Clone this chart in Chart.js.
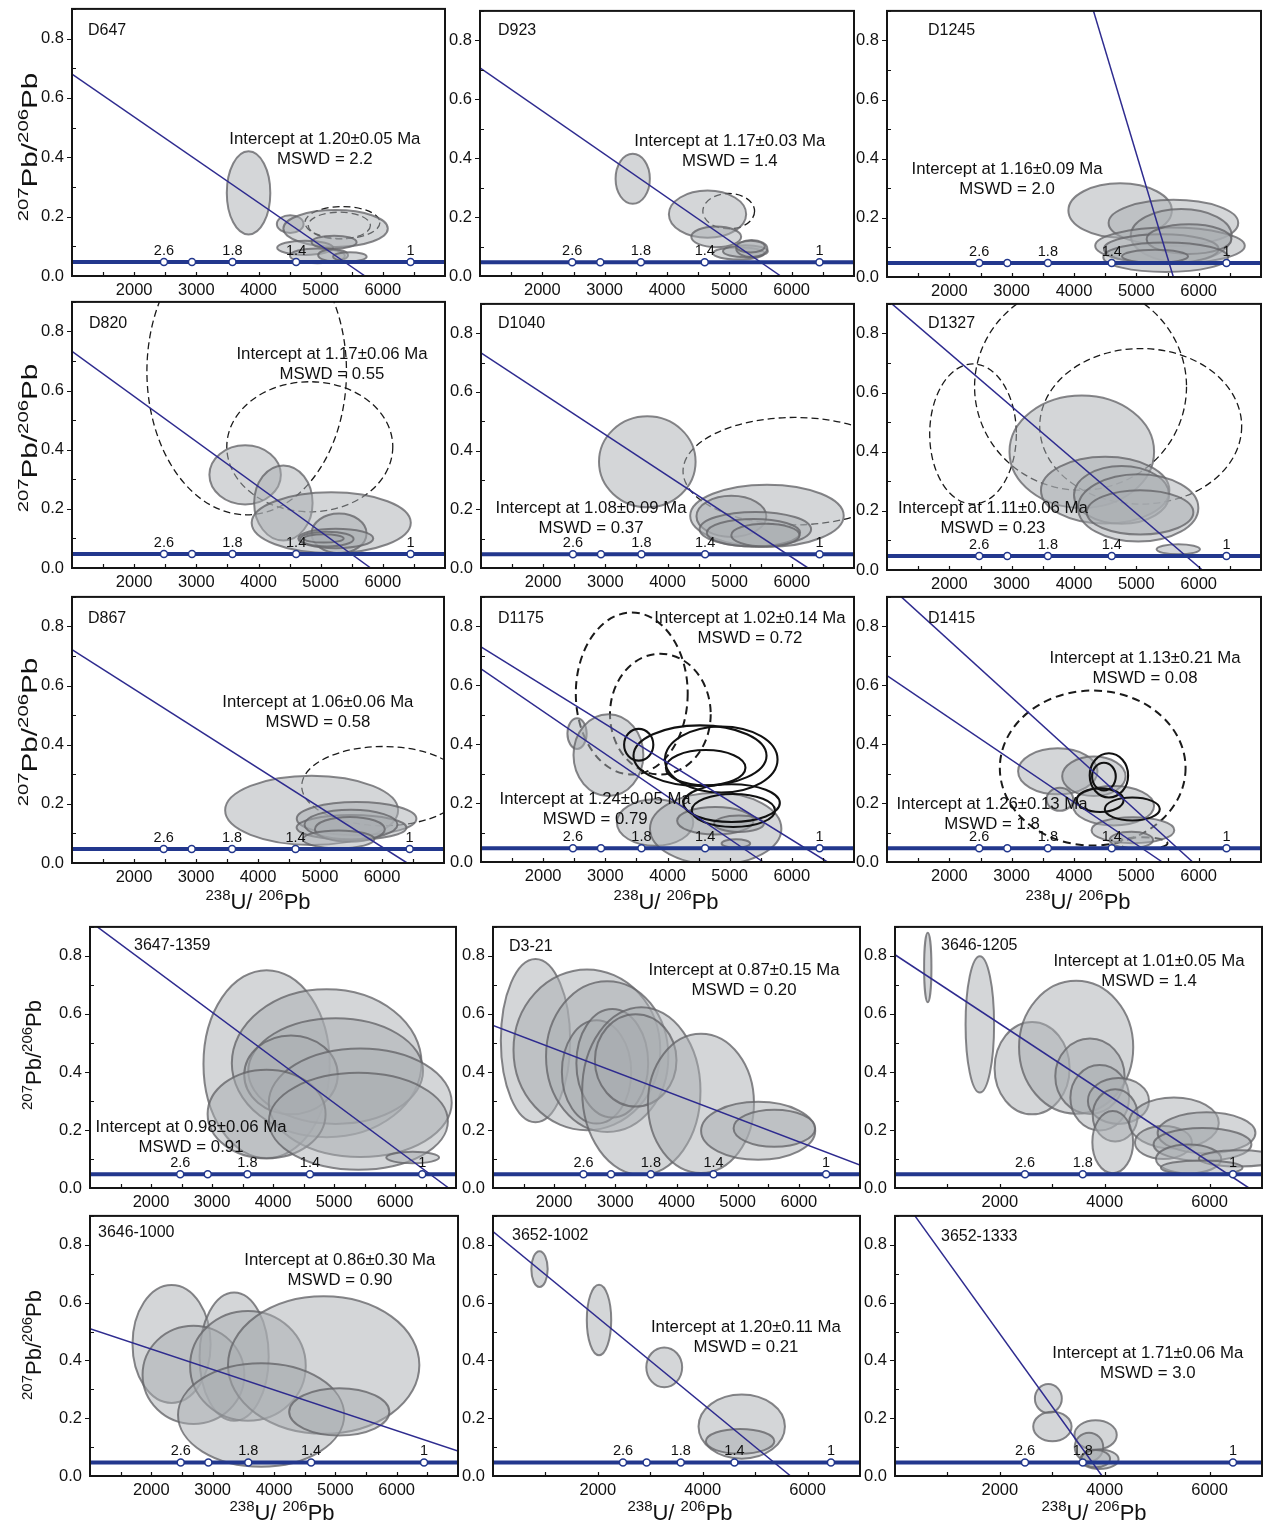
<!DOCTYPE html>
<html>
<head>
<meta charset="utf-8">
<title>Tera-Wasserburg diagrams</title>
<script src="https://cdn.jsdelivr.net/npm/chart.js@4.4.1/dist/chart.umd.min.js"></script>
<style>
  html, body { margin: 0; padding: 0; background: #fff; }
  body { position: relative; width: 1278px; height: 1527px; overflow: hidden;
         font-family: "Liberation Sans", Arial, sans-serif; color: #111; }
  canvas { position: absolute; }
  .ttl { position: absolute; white-space: nowrap; line-height: 1; }
  .ttl .b { font-size: 22px; }
  .ttl .s { font-size: 15px; position: relative; top: -9px; }
</style>
</head>
<body>
<script>
// ---- concordia (age marks in Ma, their 238U/206Pb, and the common 207Pb/206Pb level)
const concordiaAges = ['2.6', '2.2', '1.8', '1.4', '1'];
const concordiaU = [2479, 2930, 3581, 4605, 6446];
const concordiaPb = 0.047;
const labelledAges = ['2.6', '1.8', '1.4', '1'];

// ---- tick labels
const yTickLabels = [0, 0.2, 0.4, 0.6, 0.8];
const xTickLabelsFine = [2000, 3000, 4000, 5000, 6000];
const xTickLabelsCoarse = [2000, 4000, 6000];

// ---- sample error ellipses: [238U/206Pb, 207Pb/206Pb, half-width, half-height]
// discordia lines: [x1, y1, x2, y2]
const D647_grey = [[3840,0.28,350,0.14],[4510,0.175,215,0.03],[5240,0.16,840,0.062],[4750,0.095,450,0.024],[5216,0.114,362,0.022],[4948,0.068,442,0.025],[5200,0.07,240,0.02],[5470,0.065,270,0.015]];
const D647_dashed = [[5350,0.18,603,0.054],[5300,0.17,500,0.045]];
const D647_lines = [[1000,0.68,5714,0]];
const D647_notes = [['Intercept at 1.20±0.05 Ma','MSWD = 2.2']];

const D923_grey = [[3450,0.33,275,0.085],[4650,0.21,620,0.08],[4790,0.133,400,0.035],[5150,0.077,414,0.021],[5258,0.084,360,0.02],[5360,0.093,250,0.029],[5340,0.1,230,0.02]];
const D923_dashed = [[4990,0.22,415,0.06]];
const D923_lines = [[1000,0.707,5824,0]];
const D923_notes = [['Intercept at 1.17±0.03 Ma','MSWD = 1.4']];

const D1245_grey = [[4740,0.225,830,0.092],[5595,0.183,1040,0.078],[5720,0.14,810,0.09],[5540,0.106,1200,0.061],[5400,0.095,920,0.05],[5845,0.128,680,0.05],[5470,0.067,1000,0.05],[5300,0.07,530,0.022]];
const D1245_lines = [[4312,0.9,5594,0]];
const D1245_notes = [['Intercept at 1.16±0.09 Ma','MSWD = 2.0']];

const D820_grey = [[3785,0.315,575,0.1],[4400,0.22,470,0.127],[5170,0.153,1280,0.103],[5296,0.117,442,0.067],[5243,0.1,603,0.033],[5100,0.098,430,0.025],[5050,0.1,320,0.014]];
const D820_dashed = [[3810,0.665,1605,0.485],[4825,0.41,1335,0.22]];
const D820_lines = [[1000,0.733,5805,0]];
const D820_notes = [['Intercept at 1.17±0.06 Ma','MSWD = 0.55']];

const D1040_grey = [[3675,0.362,777,0.155],[5600,0.178,1235,0.106],[5028,0.176,562,0.07],[5413,0.132,897,0.059],[5383,0.12,750,0.047],[5575,0.112,549,0.039]];
const D1040_dashed = [[6045,0.33,1795,0.183]];
const D1040_lines = [[1000,0.733,6260,0]];
const D1040_notes = [['Intercept at 1.08±0.09 Ma','MSWD = 0.37']];

const D1327_grey = [[4125,0.40,1160,0.19],[4500,0.27,1030,0.113],[4763,0.254,763,0.0975],[5030,0.21,965,0.114],[5060,0.195,855,0.075],[5673,0.07,348,0.017]];
const D1327_dashed = [[2380,0.46,695,0.237],[4105,0.62,1700,0.35],[5070,0.486,1620,0.263]];
const D1327_lines = [[1080,0.9,6059,0]];
const D1327_notes = [['Intercept at 1.11±0.06 Ma','MSWD = 0.23']];

const D867_grey = [[4865,0.178,1395,0.117],[5590,0.15,965,0.056],[5509,0.12,886,0.042],[5500,0.13,750,0.05],[5482,0.114,564,0.042],[5300,0.08,577,0.03]];
const D867_dashed = [[6020,0.26,1315,0.134]];
const D867_lines = [[1000,0.722,6405,0]];
const D867_notes = [['Intercept at 1.06±0.06 Ma','MSWD = 0.58']];

const D1175_grey = [[2545,0.436,155,0.052],[3050,0.363,562,0.139],[3800,0.134,615,0.079],[4775,0.113,1057,0.122],[4770,0.14,615,0.047],[5150,0.13,400,0.028],[5100,0.063,230,0.014]];
const D1175_dashed = [[3425,0.572,900,0.275],[3885,0.502,810,0.205]];
const D1175_open = [[3537,0.398,235,0.054],[4523,0.361,1070,0.103],[4865,0.348,905,0.112],[4614,0.32,640,0.06],[5031,0.2,776,0.064],[5060,0.175,670,0.056]];
const D1175_lines = [[1000,0.73,6573,0],[1000,0.656,5540,0]];
const D1175_notes = [['Intercept at 1.02±0.14 Ma','MSWD = 0.72'],['Intercept at 1.24±0.05 Ma','MSWD = 0.79']];

const D1415_grey = [[3740,0.308,637,0.078],[3773,0.213,214,0.039],[4319,0.291,509,0.067],[4635,0.191,650,0.067],[4945,0.108,664,0.044],[4920,0.075,348,0.028]];
const D1415_dashed = [[4300,0.319,1490,0.263],[5100,0.064,400,0.02]];
const D1415_open = [[4560,0.294,308,0.075],[4480,0.29,190,0.047],[4420,0.21,375,0.04],[4935,0.18,441,0.039]];
const D1415_lines = [[1230,0.9,5904,0],[1000,0.633,5417,0]];
const D1415_notes = [['Intercept at 1.13±0.21 Ma','MSWD = 0.08'],['Intercept at 1.26±0.13 Ma','MSWD = 1.8']];

const S3647_1359_grey = [[3895,0.427,1035,0.324],[4880,0.43,1555,0.255],[5027,0.403,1433,0.182],[4295,0.39,767,0.136],[5430,0.294,1500,0.187],[3895,0.255,967,0.153],[5400,0.23,1467,0.167],[6290,0.105,433,0.02]];
const S3647_1359_lines = [[1120,0.9,6880,0]];
const S3647_1359_notes = [['Intercept at 0.98±0.06 Ma','MSWD = 0.91']];

const D3_21_grey = [[1695,0.508,567,0.281],[2535,0.476,1200,0.277],[2867,0.453,1000,0.26],[2693,0.4,567,0.178],[2950,0.43,587,0.187],[3425,0.334,967,0.289],[3333,0.44,667,0.159],[4400,0.292,867,0.24],[5335,0.197,933,0.1],[5600,0.206,667,0.064]];
const D3_21_lines = [[1000,0.56,7000,0.079]];
const D3_21_notes = [['Intercept at 0.87±0.15 Ma','MSWD = 0.20']];

const S3646_1205_grey = [[625,0.76,70,0.12],[1618,0.564,272,0.235],[2615,0.413,716,0.159],[3455,0.485,1089,0.229],[3718,0.385,661,0.13],[3905,0.311,560,0.113],[4262,0.3,583,0.079],[4200,0.25,428,0.09],[4153,0.158,389,0.107],[5320,0.224,856,0.088],[5120,0.157,544,0.057],[5942,0.19,933,0.071],[5865,0.15,933,0.057],[5600,0.1,622,0.05],[6564,0.102,770,0.028],[5850,0.07,780,0.025]];
const S3646_1205_lines = [[0,0.804,6750,0]];
const S3646_1205_notes = [['Intercept at 1.01±0.05 Ma','MSWD = 1.4']];

const S3646_1000_grey = [[2330,0.457,637,0.204],[3350,0.413,564,0.222],[2687,0.35,830,0.17],[3575,0.381,943,0.19],[4810,0.384,1560,0.238],[3790,0.211,1355,0.179],[5064,0.222,817,0.082]];
const S3646_1000_lines = [[1000,0.51,7000,0.086]];
const S3646_1000_notes = [['Intercept at 0.86±0.30 Ma','MSWD = 0.90']];

const S3652_1002_grey = [[887,0.716,156,0.062],[2022,0.54,233,0.122],[3266,0.376,342,0.069],[4744,0.171,824,0.111],[4713,0.12,653,0.043]];
const S3652_1002_lines = [[0,0.846,5677,0]];
const S3652_1002_notes = [['Intercept at 1.20±0.11 Ma','MSWD = 0.21']];

const S3652_1333_grey = [[2925,0.268,257,0.05],[3002,0.171,366,0.051],[3826,0.142,404,0.051],[3700,0.1,272,0.05],[3900,0.058,365,0.034],[3830,0.06,272,0.03]];
const S3652_1333_lines = [[380,0.9,3950,0]];
const S3652_1333_notes = [['Intercept at 1.71±0.06 Ma','MSWD = 3.0']];

// ---- samples in reading order
const samples = [
  { name: 'D647', grey: D647_grey, dashed: D647_dashed, open: [], lines: D647_lines, notes: D647_notes },
  { name: 'D923', grey: D923_grey, dashed: D923_dashed, open: [], lines: D923_lines, notes: D923_notes },
  { name: 'D1245', grey: D1245_grey, dashed: [], open: [], lines: D1245_lines, notes: D1245_notes },
  { name: 'D820', grey: D820_grey, dashed: D820_dashed, open: [], lines: D820_lines, notes: D820_notes },
  { name: 'D1040', grey: D1040_grey, dashed: D1040_dashed, open: [], lines: D1040_lines, notes: D1040_notes },
  { name: 'D1327', grey: D1327_grey, dashed: D1327_dashed, open: [], lines: D1327_lines, notes: D1327_notes },
  { name: 'D867', grey: D867_grey, dashed: D867_dashed, open: [], lines: D867_lines, notes: D867_notes },
  { name: 'D1175', grey: D1175_grey, dashed: D1175_dashed, open: D1175_open, lines: D1175_lines, notes: D1175_notes },
  { name: 'D1415', grey: D1415_grey, dashed: D1415_dashed, open: D1415_open, lines: D1415_lines, notes: D1415_notes },
  { name: '3647-1359', grey: S3647_1359_grey, dashed: [], open: [], lines: S3647_1359_lines, notes: S3647_1359_notes },
  { name: 'D3-21', grey: D3_21_grey, dashed: [], open: [], lines: D3_21_lines, notes: D3_21_notes },
  { name: '3646-1205', grey: S3646_1205_grey, dashed: [], open: [], lines: S3646_1205_lines, notes: S3646_1205_notes },
  { name: '3646-1000', grey: S3646_1000_grey, dashed: [], open: [], lines: S3646_1000_lines, notes: S3646_1000_notes },
  { name: '3652-1002', grey: S3652_1002_grey, dashed: [], open: [], lines: S3652_1002_lines, notes: S3652_1002_notes },
  { name: '3652-1333', grey: S3652_1333_grey, dashed: [], open: [], lines: S3652_1333_lines, notes: S3652_1333_notes }
];

// ---- page layout: plot-area box [left, top, right, bottom] in px, x range, label/notes placement
const ALL = [0, 1, 2, 3, 4];
const layout = [
  { box: [72, 5, 445, 276],    xr: [1000, 7000], xt: xTickLabelsFine,   lab: [16, 22], note: [[0.678, 0.487]], ages: ALL },
  { box: [480, 7, 854, 276],   xr: [1000, 7000], xt: xTickLabelsFine,   lab: [18, 20], note: [[0.668, 0.494]], ages: ALL },
  { box: [887, 7, 1261, 277],  xr: [1000, 7000], xt: xTickLabelsFine,   lab: [41, 20], note: [[0.321, 0.596]], ages: ALL },
  { box: [72, 298, 445, 568],  xr: [1000, 7000], xt: xTickLabelsFine,   lab: [17, 22], note: [[0.697, 0.196]], ages: ALL },
  { box: [481, 300, 854, 568], xr: [1000, 7000], xt: xTickLabelsFine,   lab: [17, 20], note: [[0.295, 0.776]], ages: ALL },
  { box: [887, 300, 1261, 570],xr: [1000, 7000], xt: xTickLabelsFine,   lab: [41, 20], note: [[0.283, 0.770]], ages: ALL },
  { box: [72, 593, 444, 863],  xr: [1000, 7000], xt: xTickLabelsFine,   lab: [16, 22], note: [[0.661, 0.398]], ages: ALL },
  { box: [481, 593, 854, 862], xr: [1000, 7000], xt: xTickLabelsFine,   lab: [17, 22], note: [[0.721, 0.082], [0.306, 0.762]], ages: ALL },
  { box: [887, 593, 1261, 862],xr: [1000, 7000], xt: xTickLabelsFine,   lab: [41, 22], note: [[0.690, 0.230], [0.281, 0.781]], ages: ALL },
  { box: [90, 923, 456, 1188], xr: [1000, 7000], xt: xTickLabelsFine,   lab: [44, 19], note: [[0.276, 0.766]], ages: ALL },
  { box: [493, 923, 860, 1188],xr: [1000, 7000], xt: xTickLabelsFine,   lab: [16, 20], note: [[0.684, 0.166]], ages: ALL },
  { box: [895, 923, 1262, 1188],xr: [0, 7000],   xt: xTickLabelsCoarse, lab: [46, 19], note: [[0.692, 0.132]], ages: [0, 2, 4] },
  { box: [90, 1212, 458, 1476],xr: [1000, 7000], xt: xTickLabelsFine,   lab: [8, 17],  note: [[0.679, 0.170]], ages: ALL },
  { box: [493, 1212, 860, 1476],xr: [0, 7000],   xt: xTickLabelsCoarse, lab: [19, 20], note: [[0.689, 0.428]], ages: ALL },
  { box: [895, 1212, 1262, 1476],xr: [0, 7000],  xt: xTickLabelsCoarse, lab: [46, 21], note: [[0.689, 0.530]], ages: [0, 2, 4] }
];

const FONT = '"Liberation Sans", Arial, sans-serif';
const NAVY = '#22378d';
const LINE = '#2e2b8f';

function teraPlugin(s, L) {
  const ellipsePath = (ctx, x, y, e) => {
    const cx = x.getPixelForValue(e[0]), cy = y.getPixelForValue(e[1]);
    const rx = Math.abs(x.getPixelForValue(e[0] + e[2]) - cx);
    const ry = Math.abs(y.getPixelForValue(e[1] + e[3]) - cy);
    ctx.beginPath();
    ctx.ellipse(cx, cy, rx, ry, 0, 0, Math.PI * 2);
  };
  // panels with a second population use heavier outlines for the unfilled ellipses
  const heavy = s.open.length > 0;
  return {
    id: 'tera',
    beforeDatasetsDraw(chart) {
      const { ctx, chartArea: a, scales: { x, y } } = chart;
      ctx.save();
      ctx.beginPath();
      ctx.rect(a.left, a.top, a.right - a.left, a.bottom - a.top);
      ctx.clip();
      // rejected analyses
      ctx.setLineDash(heavy ? [8, 5] : [7, 4]);
      ctx.lineWidth = heavy ? 2 : 1.3;
      ctx.strokeStyle = '#1a1a1a';
      s.dashed.forEach(e => { ellipsePath(ctx, x, y, e); ctx.stroke(); });
      ctx.setLineDash([]);
      // accepted analyses
      s.grey.forEach(e => {
        ellipsePath(ctx, x, y, e);
        ctx.fillStyle = 'rgba(170,173,178,0.5)';
        ctx.fill();
        ctx.lineWidth = 2;
        ctx.strokeStyle = 'rgba(100,100,104,0.78)';
        ctx.stroke();
      });
      // second population
      ctx.lineWidth = 2.1;
      ctx.strokeStyle = '#111';
      s.open.forEach(e => { ellipsePath(ctx, x, y, e); ctx.stroke(); });
      ctx.restore();
    },
    afterDatasetsDraw(chart) {
      const { ctx, chartArea: a, scales: { x, y } } = chart;
      ctx.save();
      ctx.fillStyle = '#111';
      ctx.textAlign = 'center';
      ctx.textBaseline = 'middle';
      // concordia age labels
      ctx.font = '14.5px ' + FONT;
      L.ages.forEach(i => {
        if (!labelledAges.includes(concordiaAges[i])) return;
        ctx.fillText(concordiaAges[i], x.getPixelForValue(concordiaU[i]), y.getPixelForValue(concordiaPb) - 11);
      });
      // intercept notes
      ctx.font = '16.8px ' + FONT;
      s.notes.forEach((n, k) => {
        const p = L.note[k];
        const cx = a.left + p[0] * (a.right - a.left);
        const cy = a.top + p[1] * (a.bottom - a.top);
        ctx.fillText(n[0], cx, cy);
        ctx.fillText(n[1], cx, cy + 20);
      });
      // sample name
      ctx.textAlign = 'left';
      ctx.font = '16px ' + FONT;
      ctx.fillText(s.name, a.left + L.lab[0], a.top + L.lab[1]);
      ctx.restore();
    },
    afterDraw(chart) {
      const { ctx, chartArea: a, scales: { x, y } } = chart;
      ctx.save();
      ctx.strokeStyle = '#111';
      ctx.lineWidth = 1.2;
      ctx.beginPath();
      // y ticks: labelled ones outward, the others inward
      for (let v = 0.1; v < 0.9; v += 0.1) {
        const py = Math.round(y.getPixelForValue(v)) + 0.5;
        const major = yTickLabels.some(q => Math.abs(q - v) < 1e-6);
        ctx.moveTo(a.left, py);
        ctx.lineTo(major ? a.left - 5 : a.left + 4, py);
      }
      // x ticks, inward
      const step = L.xt.length > 3 ? 500 : 1000;
      for (let v = L.xr[0] + step; v < L.xr[1]; v += step) {
        const px = Math.round(x.getPixelForValue(v)) + 0.5;
        ctx.moveTo(px, a.bottom);
        ctx.lineTo(px, a.bottom - 4);
      }
      ctx.stroke();
      // frame
      ctx.lineWidth = 2;
      ctx.strokeStyle = '#151515';
      ctx.strokeRect(a.left, a.top, a.right - a.left, a.bottom - a.top);
      ctx.restore();
    }
  };
}

function buildPanel(s, L) {
  const [l, t, r, b] = L.box;
  const PAD = 14, YW = 60, XH = 34;
  const cv = document.createElement('canvas');
  cv.width = PAD + YW + (r - l) + PAD;
  cv.height = PAD + (b - t) + XH + PAD;
  cv.style.left = (l - YW - PAD) + 'px';
  cv.style.top = (t - PAD) + 'px';
  document.body.appendChild(cv);

  const datasets = [
    { data: L.ages.map(i => ({ x: concordiaU[i], y: concordiaPb })), showLine: false,
      pointRadius: 3.5, pointBackgroundColor: '#fff', pointBorderColor: NAVY, pointBorderWidth: 1.5, order: 0 },
    { data: [{ x: L.xr[0], y: concordiaPb }, { x: L.xr[1], y: concordiaPb }], showLine: true,
      borderColor: NAVY, borderWidth: 4, pointRadius: 0, order: 1 },
    ...s.lines.map(d => ({ data: [{ x: d[0], y: d[1] }, { x: d[2], y: d[3] }], showLine: true,
      borderColor: LINE, borderWidth: 1.5, pointRadius: 0, order: 2 }))
  ];

  new Chart(cv, {
    type: 'scatter',
    data: { datasets },
    options: {
      responsive: false,
      animation: false,
      events: [],
      layout: { padding: PAD },
      plugins: { legend: { display: false }, tooltip: { enabled: false } },
      scales: {
        x: {
          type: 'linear', min: L.xr[0], max: L.xr[1],
          afterFit: sc => { sc.height = XH; },
          grid: { display: false, drawTicks: false }, border: { display: false },
          ticks: { stepSize: 1000, autoSkip: false, maxRotation: 0, padding: 5, color: '#111',
                   font: { family: FONT, size: 16.5 },
                   callback: v => L.xt.includes(v) ? String(v) : '' }
        },
        y: {
          type: 'linear', min: 0, max: 0.9,
          afterFit: sc => { sc.width = YW; },
          grid: { display: false, drawTicks: false }, border: { display: false },
          ticks: { stepSize: 0.1, autoSkip: false, padding: 8, color: '#111',
                   font: { family: FONT, size: 16.5 },
                   callback: v => yTickLabels.some(q => Math.abs(q - v) < 1e-6) ? v.toFixed(1) : '' }
        }
      }
    },
    plugins: [teraPlugin(s, L)]
  });
}

samples.forEach((s, i) => buildPanel(s, layout[i]));

// ---- axis titles
const yTitlePos = [[30, 147], [30, 438], [30, 732], [34, 1055], [34, 1345]];
const xTitlePos = [[258, 902], [666, 902], [1078, 902], [282, 1513], [680, 1513], [1094, 1513]];
const yTitleHTML = '<span class="s">207</span><span class="b">Pb/</span><span class="s">206</span><span class="b">Pb</span>';
const xTitleHTML = '<span class="s">238</span><span class="b">U/ </span><span class="s">206</span><span class="b">Pb</span>';
yTitlePos.forEach(([cx, cy], i) => {
  const d = document.createElement('div');
  d.className = 'ttl';
  d.innerHTML = yTitleHTML;
  d.style.left = cx + 'px';
  d.style.top = cy + 'px';
  d.style.transform = 'translate(-50%,-50%) rotate(-90deg) scaleX(' + (i < 3 ? 1.35 : 1.0) + ')';
  document.body.appendChild(d);
});
xTitlePos.forEach(([cx, cy]) => {
  const d = document.createElement('div');
  d.className = 'ttl';
  d.innerHTML = xTitleHTML;
  d.style.left = cx + 'px';
  d.style.top = cy + 'px';
  d.style.transform = 'translate(-50%,-50%)';
  document.body.appendChild(d);
});
</script>
</body>
</html>
